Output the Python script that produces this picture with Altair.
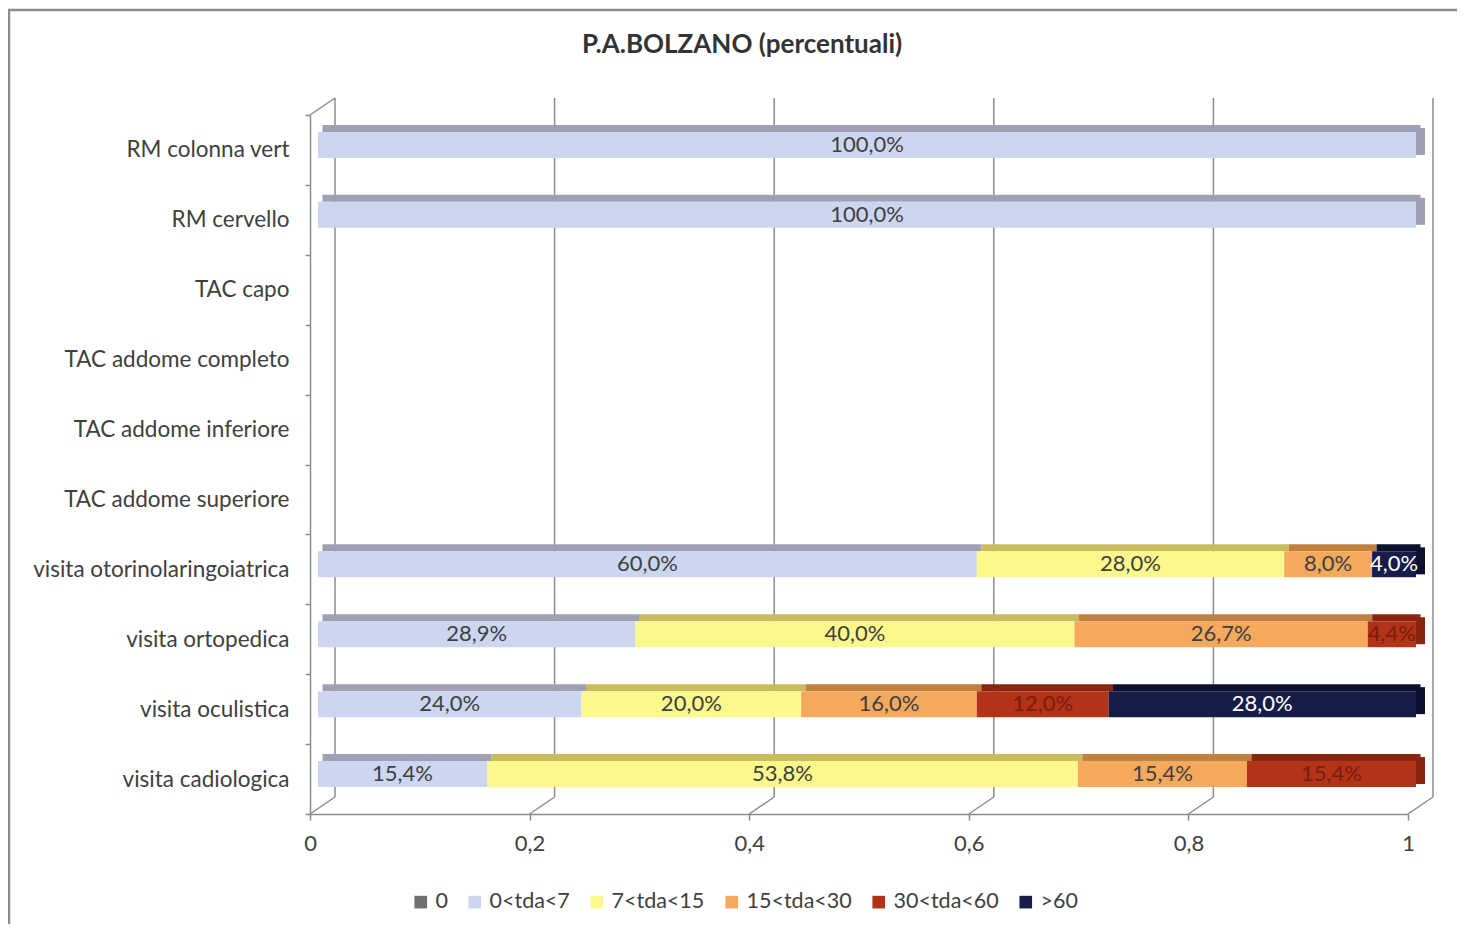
import altair as alt
import pandas as pd

categories = ["RM colonna vert", "RM cervello", "TAC capo", "TAC addome completo",
              "TAC addome inferiore", "TAC addome superiore",
              "visita otorinolaringoiatrica", "visita ortopedica",
              "visita oculistica", "visita cadiologica"]
classes = ["0", "0<tda<7", "7<tda<15", "15<tda<30", "30<tda<60", ">60"]

# percentages per class, one value per category (same order as categories)
v_zero = [0, 0, 0, 0, 0, 0, 0, 0, 0, 0]
v_0_7 = [100.0, 100.0, 0, 0, 0, 0, 60.0, 28.9, 24.0, 15.4]
v_7_15 = [0, 0, 0, 0, 0, 0, 28.0, 40.0, 20.0, 53.8]
v_15_30 = [0, 0, 0, 0, 0, 0, 8.0, 26.7, 16.0, 15.4]
v_30_60 = [0, 0, 0, 0, 0, 0, 0, 4.4, 12.0, 15.4]
v_60 = [0, 0, 0, 0, 0, 0, 4.0, 0, 28.0, 0]

x_ticks = [0, 0.2, 0.4, 0.6, 0.8, 1]
title_text = "P.A.BOLZANO (percentuali)"

front_colors = ["#707070", "#cdd6f0", "#fbf88c", "#f4a95c", "#b23318", "#181c48"]
top_colors = ["#505050", "#a0a0b4", "#c7bd5e", "#c0803e", "#8a2512", "#0e1030"]

series = [v_zero, v_0_7, v_7_15, v_15_30, v_30_60, v_60]
rows = []
for ci, cls in enumerate(classes):
    for k, cat in enumerate(categories):
        v = series[ci][k]
        if v > 0:
            rows.append({"cat": cat, "cls": cls, "ord": ci, "frac": v / 100.0,
                         "label": f"{v:.1f}%".replace(".", ",")})
df = pd.DataFrame(rows)
ticks_df = pd.DataFrame({"t": x_ticks})
one = pd.DataFrame({"title": [title_text]})

FONT = "Lato"
TXT = "#404040"
LINE = "#8a8a90"

xscale = alt.Scale(domain=[0, 1], nice=False, zero=True)
yscale = alt.Scale(domain=categories, paddingInner=0, paddingOuter=0)

Y = alt.Y("cat:N", scale=yscale, sort=categories, title=None,
          axis=alt.Axis(labelFontSize=22.5, labelFont=FONT, labelColor=TXT,
                        labelPadding=16, labelLimit=400, tickBand="extent", tickSize=5,
                        tickColor=LINE, domainColor=LINE, domainWidth=1.5,
                        tickWidth=1.5, grid=False))

base = alt.Chart(df).transform_stack(
    stack="frac", groupby=["cat"], sort=[alt.SortField("ord")], as_=["x0", "x1"]
).transform_calculate(xm="(datum.x0 + datum.x1) / 2")

xaxis = alt.Axis(values=x_ticks, format="~g", labelExpr="replace(datum.label, '.', ',')",
                 labelFontSize=22, labelFont=FONT, labelColor=TXT, labelPadding=13,
                 labelFlush=False,
                 tickSize=6, tickColor=LINE, tickWidth=1.5, domainColor=LINE,
                 domainWidth=1.5, grid=False, title=None)

frame = alt.Chart(one).mark_rect(fill="transparent", stroke="#8c8c8c", strokeWidth=2.5).encode(
    x=alt.value(-301), x2=alt.value(1400), y=alt.value(-105), y2=alt.value(1000))

title = alt.Chart(one).mark_text(fontSize=26, fontWeight="bold", font=FONT, color="#333333",
                                 align="center", baseline="middle").encode(
    x=alt.value(432), y=alt.value(-70), text="title:N")

grid = alt.Chart(ticks_df).mark_rule(color=LINE, strokeWidth=1.5, xOffset=25).encode(
    x=alt.X("t:Q", scale=xscale, axis=xaxis), y=alt.value(-17), y2=alt.value(682))

diag = alt.Chart(ticks_df).mark_rule(color=LINE, strokeWidth=1.5, x2Offset=25).encode(
    x=alt.X("t:Q", scale=xscale, axis=xaxis), x2="t:Q", y=alt.value(699), y2=alt.value(682))

corner = alt.Chart(one).mark_rule(color=LINE, strokeWidth=1.5).encode(
    x=alt.value(0), x2=alt.value(25), y=alt.value(0), y2=alt.value(-17))

front = base.mark_bar(height=26, yOffset=-5, xOffset=8, x2Offset=8).encode(
    y=Y,
    x=alt.X("x0:Q", scale=xscale, axis=xaxis),
    x2="x1:Q",
    color=alt.Color("cls:N", scale=alt.Scale(domain=classes, range=front_colors),
                    legend=alt.Legend(orient="none", legendX=100, legendY=776,
                                      direction="horizontal", columns=6, title=None,
                                      symbolType="square", symbolSize=160,
                                      symbolStrokeWidth=0, labelFontSize=21.5,
                                      labelFont=FONT, labelColor=TXT,
                                      columnPadding=16, labelOffset=4)),
)

top = base.mark_bar(height=7, yOffset=-21.5, xOffset=12.5, x2Offset=12.5).encode(
    y=Y,
    x=alt.X("x0:Q", scale=xscale, axis=xaxis),
    x2="x1:Q",
    color=alt.Color("cls:N", scale=alt.Scale(domain=classes, range=top_colors), legend=None),
)

side = base.transform_joinaggregate(maxord="max(ord)", groupby=["cat"]).transform_filter(
    "datum.ord == datum.maxord"
).mark_bar(height=27, yOffset=-8.5, xOffset=8, x2Offset=17).encode(
    y=Y,
    x=alt.X("x1:Q", scale=xscale, axis=xaxis),
    x2="x1:Q",
    color=alt.Color("cls:N", scale=alt.Scale(domain=classes, range=top_colors), legend=None),
)

labels = base.mark_text(fontSize=22, font=FONT, yOffset=-5, xOffset=8).encode(
    y=Y,
    x=alt.X("xm:Q", scale=xscale, axis=xaxis),
    text="label:N",
    color={"condition": [{"test": "datum.cls === '>60'", "value": "#ffffff"},
                         {"test": "datum.cls === '30<tda<60'", "value": "#7a1c0e"}],
           "value": TXT},
)

shades = alt.layer(top, side).resolve_scale(color="shared")

chart = alt.layer(frame, title, grid, diag, corner, shades, front, labels).resolve_scale(
    color="independent"
).properties(
    width=1098, height=699,
    padding={"left": 302, "top": 107, "right": 49, "bottom": 110},
    autosize=alt.AutoSizeParams(type="none"),
).configure(font=FONT, background="white").configure_view(strokeWidth=0, stroke="transparent")

chart.save("out.html", embed_options={"renderer": "svg", "actions": False})
